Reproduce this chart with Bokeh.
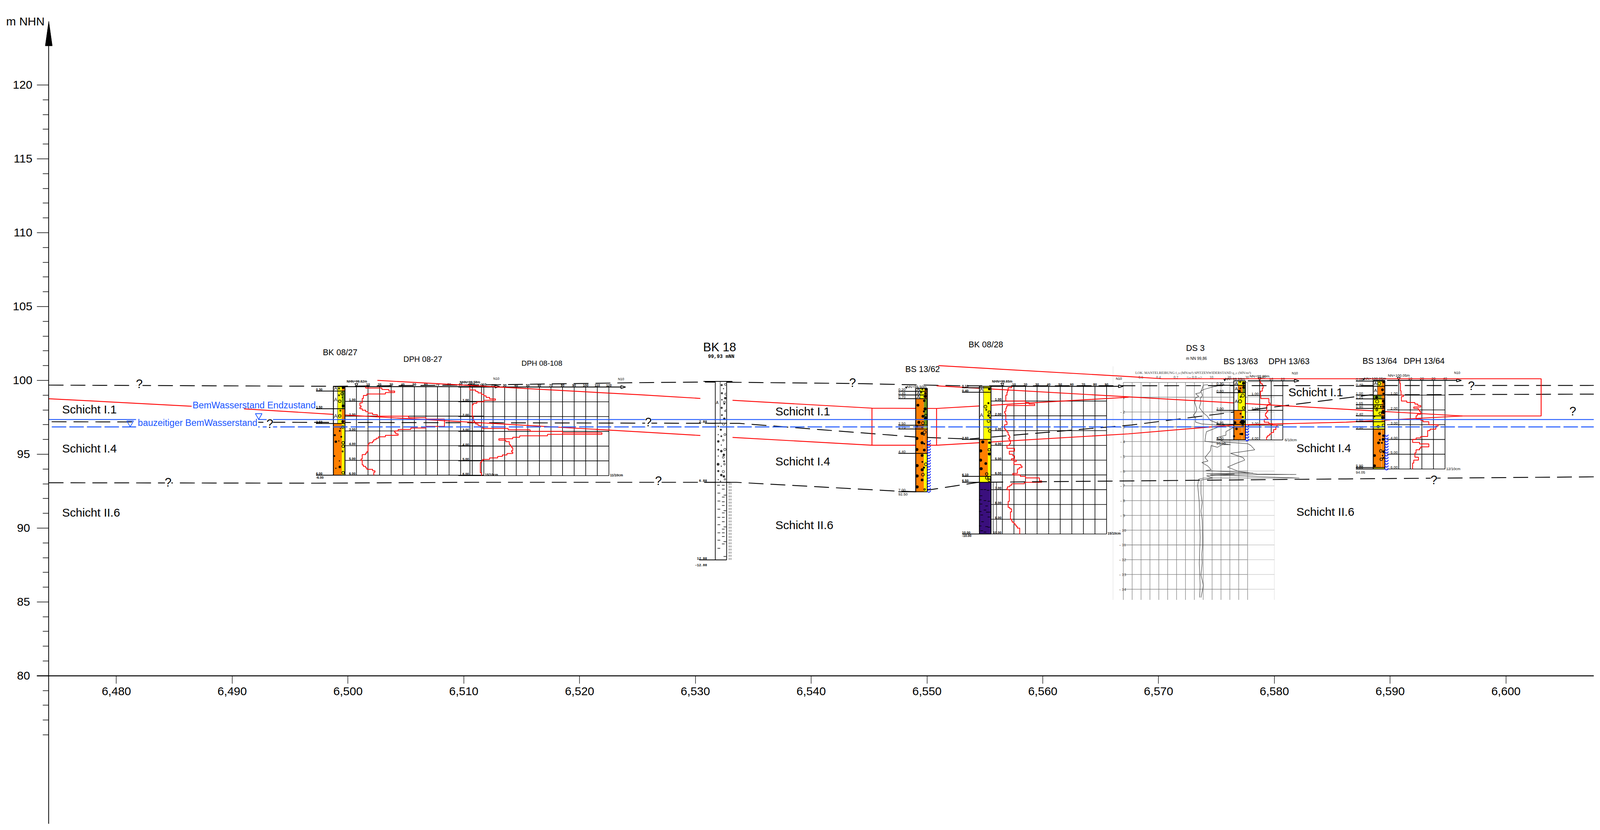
import numpy as np
from bokeh.plotting import figure
from bokeh.models import Range1d, LinearAxis, FixedTicker, NumeralTickFormatter
from bokeh.core.properties import value
from bokeh.embed import file_html
from bokeh.resources import INLINE

# ---------- axes ----------
X_TICKS = [6480, 6490, 6500, 6510, 6520, 6530, 6540, 6550, 6560, 6570, 6580, 6590, 6600]
Y_TICKS_3 = [120, 115, 110, 105, 100]
Y_TICKS_2 = [95, 90, 85, 80]
Y_MINOR = [119, 118, 117, 116, 114, 113, 112, 111, 109, 108, 107, 106, 104, 103, 102, 101,
           99, 98, 97, 96, 94, 93, 92, 91, 89, 88, 87, 86, 84, 83, 82, 81, 79, 78, 77, 76]

# ---------- boundary lines (station m, m NHN) ----------
DASH_TOP_S = [6474.15, 6498.86, 6513.15, 6524.45, 6530.88, 6543.58, 6553.11, 6607.6]
DASH_TOP_Z = [99.68, 99.60, 99.71, 99.84, 99.89, 99.79, 99.63, 99.66]
DASH_MID_S = [6474.41, 6533.79, 6549.14, 6553.64, 6567.66, 6580.81, 6588.30, 6607.6]
DASH_MID_Z = [97.20, 97.09, 96.16, 96.03, 96.98, 98.28, 99.02, 99.07]
DASH_LOW_S = [6474.15, 6497.27, 6510.77, 6533.53, 6547.21, 6549.14, 6554.46, 6586.19, 6607.6]
DASH_LOW_Z = [93.07, 93.04, 93.10, 93.10, 92.51, 92.46, 93.10, 93.33, 93.47]

RED_A_S = [6474.15, 6486.50]
RED_A_Z = [98.76, 98.25]
RED_B_S = [6491.03, 6498.73, 6525.32, 6530.43]
RED_B_Z = [98.07, 97.70, 96.51, 96.27]
RED_C_S = [6533.21, 6545.25, 6550.83, 6567.40, 6576.50, 6586.19, 6596.24]
RED_C_Z = [96.14, 95.61, 95.61, 96.38, 96.98, 97.17, 97.59]
RED_D_S = [6502.54, 6525.32, 6530.43]
RED_D_Z = [100.00, 99.02, 98.78]
RED_E_S = [6533.21, 6545.25, 6545.25, 6545.25, 6550.83, 6550.83, 6550.83, 6567.40]
RED_E_Z = [98.65, 98.12, 95.61, 98.12, 98.10, 95.61, 98.10, 98.86]
RED_F_S = [6550.99, 6567.40, 6570.31, 6603.04, 6603.04, 6596.24, 6550.83]
RED_F_Z = [101.00, 100.26, 100.11, 100.11, 97.59, 97.59, 99.63]

WATER_END = 97.35
WATER_BUILD = 96.85

# ---------- texts ----------
LAYER_NAMES = ["Schicht I.1", "Schicht I.4", "Schicht II.6", "Schicht I.1", "Schicht I.4", "Schicht II.6",
               "Schicht I.1", "Schicht I.4", "Schicht II.6"]
LAYER_S = [6475.31, 6475.31, 6475.31, 6536.91, 6536.91, 6536.91, 6581.21, 6581.90, 6581.90]
LAYER_Z = [98.04, 95.40, 91.06, 97.91, 94.52, 90.21, 99.21, 95.43, 91.12]

Q_S = [6481.98, 6493.25, 6484.47, 6525.93, 6526.81, 6543.58, 6597.01, 6605.77, 6593.78]
Q_Z = [99.76, 97.06, 93.10, 97.17, 93.20, 99.84, 99.63, 97.91, 93.25]

TITLES = ["BK 08/27", "DPH 08-27", "DPH 08-108", "BS 13/62", "BK 08/28", "DS 3", "BS 13/63", "DPH 13/63", "BS 13/64", "DPH 13/64"]
TITLE_S = [6497.83, 6504.79, 6514.98, 6548.13, 6553.59, 6572.37, 6575.60, 6579.49, 6587.61, 6591.16]
TITLE_Z = [101.90, 101.43, 101.16, 100.75, 102.41, 102.19, 101.27, 101.27, 101.30, 101.30]
TITLE_SIZE = ["21.5px", "20px", "19px", "21.5px", "21.5px", "21.5px", "21.5px", "21.5px", "21.5px", "21.5px"]

N10_S = [6512.81, 6523.58, 6566.57, 6581.77, 6595.79]
N10_Z = [100.11, 100.08, 100.13, 100.48, 100.51]

HEAD_LABELS = ["NHN+99.62m", "NHN+99.58m", "NHN+99.65m"]
HEAD_S = [6500.77, 6510.53, 6556.50]
HEAD_Z = [99.92, 99.87, 99.92]
HEAD2_LABELS = ["NN+99.50m", "NN+99.99m", "NN+99.99m", "NN+100.05m", "NN+100.05m"]
HEAD2_S = [6549.11, 6576.61, 6578.72, 6588.70, 6590.75]
HEAD2_Z = [99.58, 100.11, 100.29, 100.13, 100.34]

END_LABELS = ["15/10cm", "11/10cm", "15/10cm"]
END_S = [6511.83, 6522.63, 6565.60]
END_Z = [93.62, 93.57, 89.63]
END2_LABELS = ["6/10cm", "12/10cm"]
END2_S = [6580.89, 6594.84]
END2_Z = [95.98, 94.02]

# ---------- dynamic probing, N10 per 0.1 m ----------
N_0827 = [8, 22, 28, 33, 25, 9, 6, 6, 5, 5,
          5, 3, 3, 4, 3, 5, 8, 10, 14, 18,
          45, 60, 76, 76, 76, 76, 76, 60, 47, 36,
          33, 34, 36, 25, 19, 17, 15, 14, 11, 10,
          10, 10, 10, 10, 9, 8, 5, 5, 5, 4,
          5, 5, 5, 6, 8, 9, 14, 16, 15, 15]
N_08108 = [0, 0, 5, 7, 10, 12, 14, 17, 22, 12,
           6, 3, 2, 2, 2, 2, 2, 2, 2, 2,
           3, 3, 3, 4, 5, 7, 9, 11, 33, 52,
           80, 114, 67, 43, 37, 25, 31, 34, 34, 35,
           36, 37, 37, 36, 37, 32, 28, 24, 17, 11,
           10, 9, 9, 9, 9, 9, 9, 9, 10, 10]
N_0828 = [8, 5, 5, 4.5, 4, 4, 3, 3, 3, 3,
          20, 23, 28, 4, 3.5, 3, 3, 2, 2.5, 3,
          3, 3, 3, 3, 4, 4, 2, 2, 2, 3,
          4, 5, 5, 6, 6.5, 5.5, 6.5, 7, 7, 6,
          4, 4, 10.5, 10.5, 6, 6, 9, 10.5, 10.5, 8,
          12, 10, 10, 16, 17, 14.5, 13, 13, 13, 9,
          15.5, 20, 32, 32, 34, 19, 8, 6.5, 4.5, 4,
          6, 6, 6, 6, 6, 6, 6, 6, 5, 5,
          5, 5, 6.5, 8, 8, 7, 7, 7, 7, 7,
          8, 8.5, 10, 11, 12, 13, 15, 15, 15, 15]
N_1363 = [0.5, 1, 2.3, 3, 3, 2.3, 2.3, 0.7, 0.7, 0.7,
          1, 1, 8, 8, 8, 9, 7, 6, 6, 6,
          7, 6, 5, 5, 6, 7, 4, 4, 8, 11,
          15, 14, 14, 12, 12, 10, 8.5, 7, 6, 6]
N_1364 = [1, 1, 1.5, 1.5, 1.5, 1.5, 1.5, 2, 2, 2,
          4, 2.3, 2.3, 2.3, 7, 14, 16.5, 19, 13, 17,
          18, 19, 19, 16, 15, 15, 19, 21, 26, 26,
          34, 32, 32, 27, 25, 25, 25, 25, 19, 15,
          12, 12, 18, 26, 26, 19, 18, 15, 15, 14,
          14, 14, 17, 17, 13, 13, 12, 12, 12, 12]

# ---------- cone penetration DS 3 ----------
FS_DEPTH = [.15, .18, .47, .70, .76, .94, 1.05, 1.35, 1.81, 2.05, 2.22, 2.40, 2.69, 2.81, 2.92, 3.04, 3.33, 3.57, 3.98,
            4.21, 4.21, 4.39, 4.27, 4.62, 5.09, 5.32, 5.42, 5.67, 5.91, 5.96, 6.14, 6.18, 6.20, 6.32, 6.47, 6.55, 6.61,
            6.96, 7.54, 8.13, 8.71, 9.30, 10.47, 11.05, 11.64, 12.22, 13.04, 13.74, 14.56]
FS_VAL = [.154, .102, .084, .067, .014, .049, .014, .004, .028, .014, -.012, .014, .014, .084, .33, .26, .137, .128, .119,
          .409, .312, .26, .189, .181, .119, .154, .084, .154, .189, .128, .663, .137, .453, .137, .207, .137, .075,
          .075, .075, .088, .075, .088, .093, .093, .084, .088, .075, .102, .075]
QC_DEPTH = [.15, .29, .47, .58, .88, 1.11, 1.35, 1.70, 2.05, 2.28, 2.57, 2.81, 2.92, 3.04, 3.33, 3.57, 3.74, 4.04, 4.15,
            4.27, 4.56, 4.80, 5.09, 5.26, 5.50, 5.73, 6.02, 6.20, 6.23, 6.26, 6.47, 6.47, 6.55, 6.96, 8.13, 9.30, 10.47, 12.22, 13.74, 14.56]
QC_VAL = [17, 10.8, 5.5, 3.7, 4.6, 3.3, 3.7, 2.8, 5, 7.3, 9, 14.3, 17.9, 22.3, 17.9, 17.9, 12.6, 17, 30.3,
          32, 34.2, 20.5, 27.6, 28.5, 23.2, 18.8, 25, 35.6, 57.7, 9, 59.5, 5.5, 2.4, 1.9, 2.8, 3, 3.3, 2.8, 3.3, 3]
DS_DEPTH_LABELS = ["- 1", "- 2", "- 3", "- 4", "- 5", "- 6", "- 7", "- 8", "- 9", "- 10", "- 11", "- 12", "- 13", "- 14"]
DS_DEPTHS = [1, 2, 3, 4, 5, 6, 7, 8, 9, 10, 11, 12, 13, 14]
DS_HEAD = 99.86
DS_ZERO = 6573.09
DS_TICK_LABELS = ["0.6", "0.4", "0.2", "<-- 0.0 -->", "10", "20", "30", "40"]
DS_TICK_S = [6568.47, 6569.99, 6571.50, 6573.09, 6574.57, 6576.10, 6577.64, 6579.04]
DS_HEADERS = ["LOK. MANTELREIBUNG f_s (MN/m²)", "SPITZENWIDERSTAND  q_c (MN/m²)"]
DS_HEADER_S = [6568.0, 6573.09]

# ---------- borings: depths of layer boundaries, depth labels ----------
D_BK0827 = [0, .3, 1.5, 2.5, 6.0]
L_BK0827 = ["0.30", "1.50", "2.50", "6.00"]
D_BK0828 = [0, .1, .4, 3.6, 6.1, 6.5, 10.0]
L_BK0828 = ["0.10", "0.40", "3.60", "6.10", "6.50", "10.00"]
D_BS1362 = [0, .2, .45, .7, 2.5, 2.75, 4.4, 7.0]
L_BS1362 = ["0.20", "0.45", "0.70", "2.50", "2.75", "4.40", "7.00"]
D_BS1363 = [0, .3, .8, 2.0, 2.95, 4.0]
L_BS1363 = ["0.30", "0.80", "2.00", "2.95", "4.00"]
D_BS1364 = [0, .05, .4, 1.0, 1.25, 1.65, 1.9, 2.4, 2.8, 3.3, 5.9, 6.0]
L_BS1364 = ["0.05", "0.40", "1.00", "1.25", "1.65", "1.90", "2.40", "2.80", "3.30", "5.90", "6.00"]

# dots: fraction of column width, depth, diameter
BK0827_F = [(.84, .07, 8), (.77, .73, 3), (.84, 1.31, 8), (.81, 2.37, 8), (.60, 2.84, 3), (.55, 3.0, 5), (.12, 3.29, 6), (.68, 3.4, 5), (.47, 3.68, 3), (.21, 3.73, 7), (.08, 4.7, 5), (.52, 5.03, 3), (.55, 5.44, 7), (.21, 5.53, 3)]
BK0827_O = [(.49, .13, 4), (.75, .48, 8), (.49, .59, 4), (.55, .99, 8), (.6, 1.63, 4), (.55, 1.99, 8), (.81, 2.74, 8), (.84, 3.8, 8), (.84, 4.04, 8), (.8, 4.39, 4), (.84, 5.83, 8)]
BK0828_F = [(.85, .19, 7), (.78, 1.14, 6), (.79, 1.98, 7), (.89, 2.12, 4), (.75, 2.83, 3), (.29, 3.77, 9), (.86, 3.82, 7), (.11, 4.37, 9), (.86, 4.58, 9), (.1, 5.0, 9), (.55, 5.23, 8), (.15, 5.58, 9)]
BK0828_O = [(.52, 1.38, 9), (.59, 1.59, 4), (.85, 1.75, 8), (.79, 2.35, 9), (.89, 3.02, 8), (.85, 4.3, 8), (.63, 5.94, 8), (.64, 6.2, 8), (.85, 6.2, 9), (.85, 6.36, 8)]
BK0828_D = [(.2, 6.99), (.48, 6.99), (.75, 7.04), (.14, 7.41), (.07, 7.69), (.48, 7.74), (.82, 7.78), (.14, 7.97), (.62, 8.1), (.07, 8.48), (.48, 8.38), (.68, 8.52), (.89, 8.52), (.2, 8.71), (.82, 8.85), (.27, 9.17), (.07, 9.45), (.62, 9.5), (.82, 9.54), (.2, 9.78), (.48, 9.87)]
BS1362_F = [(.87, .07, 7), (.84, .33, 7), (.84, .56, 8), (.74, .84, 7), (.19, 1.14, 8), (.81, 1.39, 9), (.71, 1.56, 6), (.62, 1.89, 8), (.84, 2.03, 9), (.27, 2.3, 9), (.13, 2.6, 6), (.55, 2.63, 5), (.55, 3.05, 9), (.1, 3.39, 9), (.55, 3.68, 9), (.74, 3.75, 5), (.1, 4.14, 9), (.74, 4.18, 8), (.55, 4.54, 8), (.57, 4.98, 5), (.12, 5.23, 9), (.71, 5.37, 6), (.56, 5.51, 9), (.12, 5.93, 9), (.55, 6.2, 8), (.12, 6.67, 9)]
BS1362_O = [(.57, .06, 4), (.48, .28, 4), (.74, .56, 4), (.87, 1.84, 8), (.62, 2.35, 9), (.77, 2.96, 9), (.71, 3.14, 4), (.87, 5.14, 9), (.62, 5.84, 9), (.77, 6.84, 5)]
BS1363_F = [(.84, .16, 9), (.84, .45, 7), (.48, .7, 8), (.58, 2.23, 5), (.77, 2.45, 6), (.76, 2.78, 14), (.10, 2.83, 8), (.58, 2.81, 6), (.23, 3.25, 7), (.02, 3.75, 6), (.56, 3.6, 5), (.71, 3.6, 7)]
BS1363_O = [(.54, .09, 4), (.89, .42, 8), (.56, .51, 4), (.77, 1.0, 10), (.54, 1.39, 10), (.58, 1.09, 4), (.84, 1.84, 8), (.77, 3.05, 5)]
BS1364_F = [(.88, .13, 6), (.8, .64, 8), (.88, .9, 6), (.29, 1.14, 8), (.88, 1.4, 8), (.14, 1.29, 3), (.95, 1.55, 6), (.65, 1.78, 5), (.88, 1.78, 7), (.88, 2.14, 12), (.8, 2.53, 8), (.54, 3.61, 8), (.88, 3.74, 7), (.85, 3.99, 8), (.57, 4.03, 5), (.46, 4.23, 8), (.75, 4.23, 5), (.91, 4.83, 8), (.11, 5.09, 8), (.8, 5.09, 4), (.88, 5.25, 5), (.11, 5.78, 8)]
BS1364_O = [(.52, .22, 9), (.34, 1.43, 10), (.31, 1.74, 8), (.08, 1.78, 4), (.31, 2.0, 6), (.6, 2.23, 8), (.85, 2.53, 6), (.11, 2.44, 3), (.42, 3.13, 7), (.88, 3.04, 8), (.65, 4.78, 8), (.69, 5.34, 8)]
BK18_F = [(.55, .25, 6), (.71, .49, 3), (.57, .8, 6), (.86, 1.13, 7), (.57, 1.24, 4), (.78, 1.51, 5), (.55, 1.79, 6), (.83, 2.01, 3), (.57, 2.28, 5), (.78, 2.53, 7), (.26, 3.05, 4), (.48, 3.27, 6), (.26, 3.6, 3), (.52, 3.71, 5), (.26, 4.06, 7), (.52, 4.31, 3), (.26, 4.62, 5), (.52, 4.72, 7), (.26, 5.05, 3), (.74, 4.97, 7), (.24, 5.61, 8), (.52, 5.74, 3), (.76, 5.41, 5), (.26, 6.07, 6), (.52, 6.34, 7), (.74, 6.43, 7), (.26, 6.65, 3), (.45, 6.76, 3)]
BK18_O = [(.88, .2, 6), (.91, .86, 6), (.79, 1.4, 6), (.91, 1.98, 5), (.71, 2.89, 7), (.83, 3.6, 6), (.69, 3.98, 5), (.83, 4.61, 7), (.69, 5.14, 6), (.79, 5.6, 5), (.69, 6.1, 7), (.83, 6.62, 5)]
BK18_D = [(.28, 7.03), (.69, 7.03), (.69, 7.29), (.31, 7.56), (.83, 7.7), (.69, 7.83), (.31, 8.1), (.69, 8.15), (.69, 8.4), (.31, 8.65), (.83, 8.75), (.69, 8.9), (.31, 9.2), (.69, 9.2), (.69, 9.5), (.31, 9.7), (.83, 9.85), (.69, 10.0), (.31, 10.25), (.69, 10.25), (.69, 10.5), (.31, 10.75), (.83, 10.85), (.69, 11.0), (.31, 11.3), (.83, 11.85)]

# ---------- styles ----------
WHITE, YEL, ORG, OLV, PUR, CRM = "#ffffff", "#ffff00", "#ff8000", "#6f9414", "#3a0f7d", "#ffe6a8"
RED, BLUE = "#ff0000", "#1a55ff"
SANS = value("Liberation Sans")
SERIF = value("Liberation Serif")
MONO = value("Liberation Mono")
DOT = 0.82

# column cells per layer (from, to, colour)
C_BK0827 = [[(0, .38, WHITE), (.38, .73, YEL), (.73, 1, ORG)],
            [(0, .38, WHITE), (.38, .73, YEL), (.73, 1, OLV)],
            [(0, .38, WHITE), (.38, .73, YEL), (.73, 1, ORG)],
            [(0, .73, ORG), (.73, 1, YEL)]]
C_BK0828 = [[(0, .37, WHITE), (.37, 1, YEL)], [(0, .37, WHITE), (.37, 1, YEL)], [(0, .37, WHITE), (.37, 1, YEL)],
            [(0, .73, ORG), (.73, 1, YEL)], [(0, 1, YEL)], [(0, 1, PUR)]]
C_BS1362 = [[(0, .39, WHITE), (.39, .74, YEL), (.74, 1, ORG)]] * 3 + [
            [(0, .71, ORG), (.71, 1, OLV)], [(0, .71, ORG), (.71, 1, YEL)],
            [(0, .7, ORG), (.7, .72, CRM), (.72, 1, ORG)], [(0, .71, ORG), (.71, 1, YEL)]]
C_BS1363 = [[(0, .38, WHITE), (.38, 1, YEL)], [(0, .38, WHITE), (.38, .76, ORG), (.76, 1, OLV)],
            [(0, .38, WHITE), (.38, 1, YEL)], [(0, .71, ORG), (.71, 1, YEL)],
            [(0, .7, ORG), (.7, .72, CRM), (.72, 1, ORG)]]
C_BS1364 = [[(0, .38, WHITE), (.38, .72, YEL), (.72, 1, ORG)]] * 2 + [
            [(0, .38, WHITE), (.38, 1, ORG)], [(0, .72, OLV), (.72, 1, ORG)]] + [
            [(0, .72, YEL), (.72, 1, ORG)]] * 4 + [
            [(0, 1, YEL)], [(0, .71, ORG), (.71, .73, CRM), (.73, 1, ORG)], [(0, 1, YEL)]]

p = figure(width=4080, height=2108, output_backend="svg", toolbar_location=None,
           x_range=Range1d(6469.965, 6607.6), y_range=Range1d(69.97, 125.74),
           x_axis_type=None, y_axis_type=None, min_border=0, outline_line_color=None,
           background_fill_color="white", border_fill_color="white")
p.grid.visible = False


def txt(xs, ys, labels, size, align="left", base="middle", font=SANS, style="normal", color="black", y_offset=0):
    p.text(x=list(xs), y=list(ys), text=list(labels), text_font=font, text_font_size=size,
           text_align=align, text_baseline=base, text_font_style=style, text_color=color, y_offset=y_offset)


def dph(zero, head, nmax, depth, left, tip, N, size, style):
    ns = list(range(0, nmax + 1, 10))
    p.segment([zero + n / 10 for n in ns], [head] * len(ns), [zero + n / 10 for n in ns], [head - depth] * len(ns),
              line_color="black", line_width=1.6)
    ds = list(range(1, depth + 1))
    right = zero + nmax / 10
    p.segment([left] * len(ds), [head - d for d in ds], [right] * len(ds), [head - d for d in ds],
              line_color="black", line_width=1.6)
    p.segment([left], [head], [tip - .3], [head], line_color="black", line_width=2.2)
    p.patch([tip - .4, tip, tip - .4], [head + .095, head, head - .095], fill_color="white", line_color="black", line_width=2)
    p.scatter([zero], [head + .14], marker="inverted_triangle", size=8, fill_color="white", line_color="black", line_width=1.5)
    txt([zero + n / 10 for n in ns[1:]], [head + .13] * (len(ns) - 1), [str(n) for n in ns[1:]], size, "center", font=SANS, style=style)
    txt([zero - .08] * len(ds), [head - d for d in ds], ["%d.00" % d for d in ds], size, "right", "bottom", style=style, y_offset=-1)
    xs, ys = [], []
    for i, n in enumerate(N):
        xs += [zero + n / 10, zero + n / 10]
        ys += [head - i / 10, head - (i + 1) / 10]
    p.line(xs, ys, line_color=RED, line_width=2)


def boring(s0, head, depths, cells, labels, fdots, odots, size, style):
    for i, layer in enumerate(cells):
        for a, b, c in layer:
            p.quad(left=[s0 + a], right=[s0 + b], top=[head - depths[i]], bottom=[head - depths[i + 1]],
                   fill_color=c, line_color=None)
            if c == WHITE:
                p.segment([s0 + b], [head - depths[i]], [s0 + b], [head - depths[i + 1]], line_color="black", line_width=1.6)
    bottom = head - depths[-1]
    p.segment([s0, s0 + 1], [head, head], [s0, s0 + 1], [bottom, bottom], line_color="black", line_width=2.2)
    p.segment([s0], [head], [s0 + 1], [head], line_color="black", line_width=2)
    ds = depths[1:]
    p.segment([s0 - 1.5] * len(ds), [head - d for d in ds], [s0 + 1] * len(ds), [head - d for d in ds], line_color="black", line_width=2)
    txt([s0 - 1.5] * len(ds), [head - d for d in ds], labels, size, "left", "bottom", style=style, y_offset=-1)
    p.scatter([s0 + d[0] for d in fdots], [head - d[1] for d in fdots], size=[d[2] * DOT for d in fdots],
              marker="circle", fill_color="black", line_color="black", line_width=0.5)
    p.scatter([s0 + d[0] for d in odots], [head - d[1] for d in odots], size=[d[2] * DOT for d in odots],
              marker="circle", fill_alpha=0, line_color="black", line_width=1.5)


def waves(x, head, d0, d1):
    zs = np.arange(d0, d1, .19)
    p.arc(x=[x] * len(zs), y=[head - z for z in zs], radius=.14, start_angle=np.pi, end_angle=2 * np.pi,
          line_color="#0a20ff", line_width=2.2)


# ---------- DS 3 ----------
ds_fracs = [-.8, -.7, -.6, -.5, -.4, -.3, -.2, -.1, 0, .1, .2, .3, .4, .5, .6]
ds_x = [DS_ZERO + f * 7.67 for f in ds_fracs]
ds_bottom = DS_HEAD - 14.72
p.segment(ds_x, [DS_HEAD] * len(ds_x), ds_x, [ds_bottom] * len(ds_x), line_color="#808080", line_width=1.3)
p.segment([6566.07, 6580.0], [100.95, DS_HEAD], [6566.07, 6580.0], [ds_bottom, ds_bottom], line_color="#e2e2e2", line_width=1.3)
ds_h = [0] + DS_DEPTHS
p.segment([ds_x[0]] * len(ds_h), [DS_HEAD - d for d in ds_h], [ds_x[-1]] * len(ds_h), [DS_HEAD - d for d in ds_h],
          line_color="#7a7a7a", line_width=1.3)
p.segment([ds_x[-1]] * len(ds_h), [DS_HEAD - d for d in ds_h], [6580.0] * len(ds_h), [DS_HEAD - d for d in ds_h],
          line_color="#c4c4c4", line_width=1.3)
p.line([DS_ZERO + v * 7.67 for v in FS_VAL], [DS_HEAD - d for d in FS_DEPTH], line_color="#3c3c3c", line_width=1.2)
p.line([DS_ZERO + v * .1526 for v in QC_VAL], [DS_HEAD - d for d in QC_DEPTH], line_color="#3c3c3c", line_width=1.2)
txt([6566.9] * len(DS_DEPTHS), [DS_HEAD - d for d in DS_DEPTHS], DS_DEPTH_LABELS, "11px", "center", font=SERIF, color="#333333")
txt(DS_HEADER_S, [100.52, 100.52], DS_HEADERS, "9px", font=SERIF, color="#333333")
txt(DS_TICK_S, [100.2] * len(DS_TICK_S), DS_TICK_LABELS, "9.5px", "center", font=SERIF, color="#333333")

# ---------- probing grids ----------
dph(6500.73, 99.58, 110, 6, 6499.74, 6513.10, N_0827, "8.5px", "bold")
dph(6510.53, 99.55, 120, 6, 6509.53, 6523.97, N_08108, "8.5px", "bold")
dph(6556.51, 99.60, 90, 10, 6555.52, 6566.95, N_0828, "8.5px", "bold")
dph(6578.73, 99.97, 20, 4, 6577.71, 6582.13, N_1363, "9.5px", "normal")
dph(6590.74, 100.00, 40, 6, 6589.73, 6596.15, N_1364, "9.5px", "normal")

# ---------- black boundaries ----------
for sx, zy in [(DASH_TOP_S, DASH_TOP_Z), (DASH_MID_S, DASH_MID_Z), (DASH_LOW_S, DASH_LOW_Z)]:
    p.line(sx, zy, line_color="black", line_width=2.2, line_dash="38 18")

# ---------- red interpretation lines ----------
for sx, zy in [(RED_A_S, RED_A_Z), (RED_B_S, RED_B_Z), (RED_C_S, RED_C_Z), (RED_D_S, RED_D_Z), (RED_E_S, RED_E_Z), (RED_F_S, RED_F_Z)]:
    p.line(sx, zy, line_color=RED, line_width=2.2)

# ---------- BK 18 (scanned log) ----------
s18, h18 = 6531.72, 99.93
p.quad(left=[s18], right=[s18 + .98], top=[h18], bottom=[h18 - 12.08], fill_color="white", line_color=None)
p.segment([s18, s18 + .98], [h18, h18], [s18, s18 + .98], [h18 - 12.08, h18 - 12.08], line_color="#222222", line_width=2)
p.segment([s18 + .42], [h18], [s18 + .42], [h18 - 2.83], line_color="#333333", line_width=1.3)
p.segment([6530.7, 6530.83, 6530.75, 6530.33], [h18, h18 - 2.83, h18 - 6.83, h18 - 12.08],
          [6533.2, s18 + .98, 6533.02, s18 + .98], [h18, h18 - 2.83, h18 - 6.83, h18 - 12.08], line_color="black", line_width=2)
p.segment([s18 + 1.2, s18 + 1.35], [h18 - 6.87] * 2, [s18 + 1.2, s18 + 1.35], [h18 - 12.08] * 2,
          line_color="#333333", line_width=1.2, line_dash="5 3")
p.scatter([s18 + d[0] for d in BK18_F], [h18 - d[1] for d in BK18_F], size=[d[2] * DOT for d in BK18_F], marker="circle",
          fill_color="#333333", line_color="#333333", line_width=0.5)
p.scatter([s18 + d[0] for d in BK18_O], [h18 - d[1] for d in BK18_O], size=[d[2] * DOT for d in BK18_O], marker="circle",
          fill_alpha=0, line_color="#333333", line_width=1.2)
p.scatter([s18 + d[0] for d in BK18_D], [h18 - d[1] for d in BK18_D], size=7, marker="dash", line_color="#222222", line_width=1.6)
txt([6531.0] * 3, [h18 - 2.83, h18 - 6.83, h18 - 12.08], ["2.80", "6.80", "12.00"], "8.5px", "right", "bottom", MONO, "bold", y_offset=-1)
txt([6531.0], [h18 - 12.42], ["-12.00"], "8.5px", "right", font=MONO, style="bold")
txt([s18 + .17], [h18 - 1.43], ["A"], "10px", "center")

# ---------- colour borings ----------
boring(6498.74, 99.58, D_BK0827, C_BK0827, L_BK0827, BK0827_F, BK0827_O, "8.5px", "bold")
boring(6554.53, 99.60, D_BK0828, C_BK0828, L_BK0828, BK0828_F, BK0828_O, "8.5px", "bold")
boring(6549.03, 99.46, D_BS1362, C_BS1362, L_BS1362, BS1362_F, BS1362_O, "9.5px", "normal")
boring(6576.50, 99.97, D_BS1363, C_BS1363, L_BS1363, BS1363_F, BS1363_O, "9.5px", "normal")
boring(6588.54, 100.00, D_BS1364, C_BS1364, L_BS1364, BS1364_F, BS1364_O, "9.5px", "normal")
p.scatter([6554.53 + d[0] for d in BK0828_D], [99.60 - d[1] for d in BK0828_D], size=6.5, marker="dash", line_color="black", line_width=1.5)
p.segment([6555.72, 6556.01], [93.1, 93.1], [6555.72, 6556.01], [89.6, 89.6], line_color="#333333", line_width=1.5)
txt([6498.74 + .2] * 3, [99.58 - .13, 99.58 - .88, 99.58 - 1.99], ["A"] * 3, "12.5px", "center")
txt([6554.53 + .18] * 2, [99.6 - .23, 99.6 - 1.98], ["A"] * 2, "12.5px", "center")
txt([6549.03 + .22] * 3, [99.46 - .07, 99.46 - .31, 99.46 - .57], ["A"] * 3, "11.5px", "center")
txt([6576.5 + .21] * 3, [99.97 - .18, 99.97 - .54, 99.97 - 1.39], ["A"] * 3, "11.5px", "center")
txt([6588.54 + .2] * 2, [100.0 - .21, 100.0 - .68], ["A"] * 2, "11.5px", "center")
txt([6497.24], [93.42], ["-6.00"], "8.5px", "left", style="bold")
txt([6553.03], [89.48], ["-10.00"], "8.5px", "left", style="bold")
txt([6547.53], [92.29], ["92.50"], "9.5px")
txt([6575.0], [95.72], ["95.99"], "9.5px")
txt([6587.04], [93.77], ["94.05"], "9.5px")
waves(6549.03 + 1.13, 99.46, 3.5, 7.0)
waves(6576.50 + 1.15, 99.97, 3.0, 4.0)
waves(6588.54 + 1.15, 100.0, 3.67, 6.0)

# ---------- water levels ----------
p.segment([6474.16], [WATER_END], [6607.6], [WATER_END], line_color=BLUE, line_width=2.2)
p.segment([6474.42], [WATER_BUILD], [6607.6], [WATER_BUILD], line_color=BLUE, line_width=2.4, line_dash="37 8")
p.quad(left=[6481.7], right=[6492.25], top=[97.6], bottom=[96.7], fill_color="white", line_color=None)
p.scatter([6481.19, 6492.29], [97.12, 97.62], marker="inverted_triangle", size=17, fill_alpha=0, line_color=BLUE, line_width=1.8)
txt([6486.58], [98.31], ["BemWasserstand Endzustand"], "23.5px", color=BLUE)
txt([6481.85], [97.14], ["bauzeitiger BemWasserstand"], "23.5px", color=BLUE)

# ---------- labels ----------
txt(LAYER_S, LAYER_Z, LAYER_NAMES, "30px")
p.rect(Q_S, Q_Z, width=.55, height=.7, fill_color="white", line_color=None)
txt(Q_S, Q_Z, ["?"] * len(Q_S), "31px", "center")
for tx, ts, tz, sz in zip(TITLES, TITLE_S, TITLE_Z, TITLE_SIZE):
    txt([ts], [tz], [tx], sz)
txt([6530.67], [102.25], ["BK 18"], "31px")
txt([6531.09], [101.59], ["99,93 mNN"], "12.5px", font=MONO, style="bold")
txt([6572.37], [101.49], ["m NN 99,86"], "10px")
txt(N10_S, N10_Z, ["N10"] * len(N10_S), "8.5px", "center")
txt(HEAD_S, HEAD_Z, HEAD_LABELS, "8.5px", "center", style="bold")
txt(HEAD2_S, HEAD2_Z, HEAD2_LABELS, "9.5px", "center")
p.scatter([6548.21, 6575.71, 6587.72], [99.52, 100.03, 100.08], marker="inverted_triangle", size=5,
          fill_color="black", line_color="black")
txt(END_S, END_Z, END_LABELS, "8.5px", style="bold")
txt(END2_S, END2_Z, END2_LABELS, "9.5px")

# ---------- axes ----------
x_axis = LinearAxis(fixed_location=80, ticker=FixedTicker(ticks=X_TICKS), formatter=NumeralTickFormatter(format="0,0"),
                    bounds=(6473.14, 6607.6), major_tick_out=20, major_tick_in=0, minor_tick_out=0, minor_tick_in=0,
                    major_label_text_font="Liberation Sans", major_label_text_font_size="30px", major_label_text_color="black",
                    major_label_standoff=10, axis_line_color="black", axis_line_width=2.4, major_tick_line_color="black",
                    major_tick_line_width=1.3)
p.add_layout(x_axis, "below")

common = dict(fixed_location=6474.16, bounds=(69.97, 122.65), major_tick_out=30, major_tick_in=0, minor_tick_out=15, minor_tick_in=0,
              major_label_text_font="Liberation Sans", major_label_text_font_size="30px", major_label_text_color="black",
              axis_line_color="black", axis_line_width=1.6, major_tick_line_color="black", major_tick_line_width=1.3,
              minor_tick_line_color="black", minor_tick_line_width=1.6)
y_axis3 = LinearAxis(ticker=FixedTicker(ticks=Y_TICKS_3, minor_ticks=Y_MINOR), major_label_standoff=12, **common)
y_axis2 = LinearAxis(ticker=FixedTicker(ticks=Y_TICKS_2), major_label_standoff=18, **common)
p.add_layout(y_axis3, "left")
p.add_layout(y_axis2, "left")

p.patch([6474.16, 6473.86, 6474.46], [124.31, 122.65, 122.65], fill_color="black", line_color="black")
txt([6473.8], [124.31], ["m NHN"], "30px", "right")

open("out.html", "w").write(file_html(p, INLINE))
